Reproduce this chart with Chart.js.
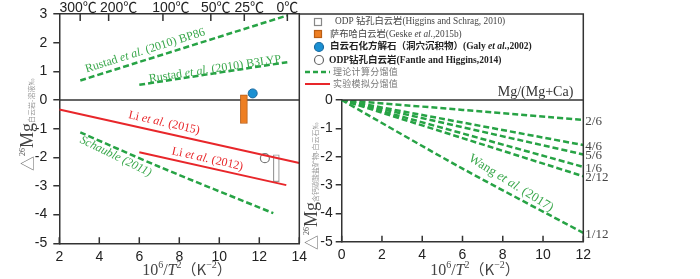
<!DOCTYPE html>
<html>
<head>
<meta charset="utf-8">
<script src="https://cdn.jsdelivr.net/npm/chart.js@4.4.1/dist/chart.umd.min.js"></script>
<style>
html, body { margin: 0; padding: 0; background: #fff; }
#wrap { position: relative; width: 700px; height: 279px; overflow: hidden; }
#leftChart { position: absolute; left: 0; top: 0; }
#rightChart { position: absolute; left: 300px; top: 0; }
</style>
</head>
<body>
<div id="wrap">
  <canvas id="leftChart" width="320" height="279"></canvas>
  <canvas id="rightChart" width="400" height="279"></canvas>
</div>
<script>
// ---- left panel: dolomite-fluid fractionation vs 10^6/T^2 ----
var tempLabels = ['300℃', '200℃', '100℃', '50℃', '25℃', '0℃'];
var tempDegC = [300, 200, 100, 50, 25, 0];

var bp86X = [3.05, 13.4];
var bp86Y = [0.68, 2.95];
var b3lypX = [6.0, 13.4];
var b3lypY = [0.53, 1.32];
var schaubleX = [3.05, 7.0, 12.7];
var schaubleY = [-1.13, -2.33, -3.95];
var li2015X = [2, 14];
var li2015Y = [-0.33, -2.2];
var li2012X = [6.0, 13.35];
var li2012Y = [-1.82, -2.97];

var geskeX = [11.23];
var geskeRange = [[-0.82, 0.18]];
var higginsX = [12.85];
var higginsRange = [[-2.85, -1.91]];
var galyX = [11.67];
var galyY = [0.23];
var fantleX = [12.28];
var fantleY = [-2.03];

// ---- right panel: Wang et al. (2017), by Mg/(Mg+Ca) ----
var ratioLabels = ['2/6', '4/6', '5/6', '1/6', '2/12', '1/12'];
var wangX = [0, 12];
var wang26 = [0, -0.70];
var wang46 = [0, -1.59];
var wang56 = [0, -1.92];
var wang16 = [0, -2.36];
var wang212 = [0, -2.69];
var wang112X = [0, 6, 12];
var wang112 = [0, -2.42, -4.69];

var GREEN = '#27a345';
var GREEN_TXT = '#3aa84c';
var RED = '#e8262a';
var AXIS = '#333';
var SERIF = '"Liberation Serif", "Noto Sans CJK SC", serif';
var SANS = '"Liberation Sans", "Noto Sans CJK SC", sans-serif';
var CJK = '"Noto Sans CJK SC", sans-serif';
// the temperature labels sit a little right of their ticks in the source figure
var tempLabelShift = [-2, 10, 8, 5, 5, 0];

function pts(xs, ys) {
    return xs.map(function (x, i) { return { x: x, y: ys[i] }; });
}

function dashed(data) {
    return { type: 'line', data: data, borderColor: GREEN, borderWidth: 2.5,
        borderDash: [6, 3], pointRadius: 0, fill: false, tension: 0.3 };
}
function solid(data) {
    return { type: 'line', data: data, borderColor: RED, borderWidth: 2,
        pointRadius: 0, fill: false };
}

// draw a run of text pieces with their own fonts
function drawRich(ctx, segs, x, y, align) {
    var w = 0;
    segs.forEach(function (s) {
        ctx.font = s.font;
        s.w = ctx.measureText(s.t).width;
        w += s.w;
    });
    var cx = align === 'center' ? x - w / 2 : x;
    segs.forEach(function (s) {
        ctx.font = s.font;
        ctx.fillStyle = s.color || '#333';
        ctx.fillText(s.t, cx, y + (s.dy || 0));
        cx += s.w;
    });
}

function lineLabel(ctx, chart, xv, yv, deg, segs) {
    var px = chart.scales.x.getPixelForValue(xv);
    var py = chart.scales.y.getPixelForValue(yv);
    ctx.save();
    ctx.translate(px, py);
    ctx.rotate(deg * Math.PI / 180);
    ctx.textBaseline = 'middle';
    drawRich(ctx, segs, 0, 0, 'center');
    ctx.restore();
}

function etal(color, size) {
    return function (before, after) {
        return [
            { t: before, font: size + 'px ' + SERIF, color: color },
            { t: 'et al.', font: 'italic ' + size + 'px ' + SERIF, color: color },
            { t: after, font: size + 'px ' + SERIF, color: color }
        ];
    };
}

function xTitle(ctx, cx, y) {
    var f = '16px ' + SERIF, s = '10px ' + SERIF;
    ctx.textBaseline = 'alphabetic';
    drawRich(ctx, [
        { t: '10', font: f, color: '#444' }, { t: '6', font: s, dy: -7, color: '#444' },
        { t: '/', font: f, color: '#444' }, { t: 'T', font: 'italic ' + f, color: '#444' },
        { t: '2', font: s, dy: -7, color: '#444' }, { t: '（K', font: '15px ' + CJK, color: '#444' },
        { t: '−2', font: s, dy: -7, color: '#444' }, { t: '）', font: '15px ' + CJK, color: '#444' }
    ], cx, y, 'center');
}

function yTitle(ctx, x, y, sub) {
    ctx.save();
    ctx.translate(x, y);
    ctx.rotate(-Math.PI / 2);
    ctx.textBaseline = 'alphabetic';
    drawRich(ctx, [
        { t: '△', font: '15px ' + CJK, color: '#777' },
        { t: '26', font: '8px ' + SERIF, dy: -8, color: '#555' },
        { t: 'Mg', font: '18px ' + SERIF, color: '#444' },
        { t: sub, font: '7px ' + CJK, color: '#999', dy: 1 }
    ], 0, 0, 'left');
    ctx.restore();
}

function inwardTicks(ctx, scale, y0, len) {
    ctx.beginPath();
    scale.ticks.forEach(function (t) {
        var px = scale.getPixelForValue(t.value);
        ctx.moveTo(px, y0);
        ctx.lineTo(px, y0 + len);
    });
    ctx.stroke();
}

function tickFont() {
    return { family: 'Liberation Sans', size: 14 };
}

// ---------------- left chart ----------------
var leftDecor = {
    id: 'leftDecor',
    beforeDatasetsDraw: function (chart) {
        var ctx = chart.ctx, a = chart.chartArea, y = chart.scales.y;
        ctx.save();
        ctx.strokeStyle = AXIS;
        ctx.lineWidth = 1.5;
        ctx.beginPath();
        ctx.moveTo(a.left, y.getPixelForValue(0));
        ctx.lineTo(a.right, y.getPixelForValue(0));
        ctx.stroke();
        ctx.restore();
    },
    afterDraw: function (chart) {
        var ctx = chart.ctx, a = chart.chartArea, top = chart.scales.xTop;
        ctx.save();
        ctx.strokeStyle = AXIS;
        ctx.lineWidth = 1.5;
        ctx.beginPath();
        ctx.moveTo(a.right, a.top);
        ctx.lineTo(a.right, a.bottom);
        ctx.stroke();
        inwardTicks(ctx, chart.scales.x, a.bottom, -6);
        inwardTicks(ctx, top, a.top, 7);

        // temperature labels on the top axis
        ctx.font = '14px ' + SANS;
        ctx.fillStyle = '#222';
        ctx.textAlign = 'center';
        ctx.textBaseline = 'alphabetic';
        top.ticks.forEach(function (t, i) {
            ctx.fillText(tempLabels[i], top.getPixelForValue(t.value) + tempLabelShift[i], 12);
        });
        ctx.textAlign = 'left';

        var g = etal(GREEN_TXT, 12), r = etal(RED, 12);
        lineLabel(ctx, chart, 6.29, 1.72, -17.4, g('Rustad ', ' (2010) BP86'));
        lineLabel(ctx, chart, 9.79, 1.08, -8.6, g('Rustad ', ' (2010) B3LYP'));
        lineLabel(ctx, chart, 7.24, -0.80, 12.6, r('Li ', ' (2015)'));
        lineLabel(ctx, chart, 9.41, -2.06, 12.7, r('Li ', ' (2012)'));
        lineLabel(ctx, chart, 4.82, -1.97, 26, [
            { t: 'Schauble (2011)', font: 'italic 12px ' + SERIF, color: GREEN_TXT }
        ]);

        yTitle(ctx, 33, 171, '白云岩-溶液‰');
        xTitle(ctx, 187, 275);
        ctx.restore();
    }
};

new Chart(document.getElementById('leftChart'), {
    type: 'line',
    data: {
        datasets: [
            dashed(pts(bp86X, bp86Y)),
            dashed(pts(b3lypX, b3lypY)),
            dashed(pts(schaubleX, schaubleY)),
            solid(pts(li2015X, li2015Y)),
            solid(pts(li2012X, li2012Y)),
            { type: 'bar', data: pts(geskeX, geskeRange), backgroundColor: '#ee7f23',
              borderColor: '#b95d14', borderWidth: 1, borderSkipped: false,
              barThickness: 7, grouped: false },
            { type: 'bar', data: pts(higginsX, higginsRange), backgroundColor: '#fff',
              borderColor: '#999', borderWidth: 1.2, borderSkipped: false,
              barThickness: 6, grouped: false },
            { type: 'scatter', data: pts(galyX, galyY), pointRadius: 4.5,
              backgroundColor: '#1b90d2', borderColor: '#1a6aa0', borderWidth: 1 },
            { type: 'scatter', data: pts(fantleX, fantleY), pointRadius: 4.5,
              backgroundColor: '#fff', borderColor: '#777', borderWidth: 1.2 }
        ]
    },
    options: {
        responsive: false,
        animation: false,
        layout: { padding: { left: 0, right: 20.7, top: 0, bottom: 0 } },
        plugins: { legend: { display: false }, tooltip: { enabled: false } },
        scales: {
            x: {
                type: 'linear', position: 'bottom', min: 2, max: 14, offset: false,
                ticks: { stepSize: 2, font: tickFont(), color: '#222', padding: 5, maxRotation: 0 },
                grid: { display: false, drawTicks: false },
                border: { color: AXIS, width: 1.5 },
                afterFit: function (s) { s.height = 35.7; s.paddingLeft = 0; s.paddingRight = 0; }
            },
            xTop: {
                type: 'linear', axis: 'x', position: 'top', min: 2, max: 14,
                afterBuildTicks: function (s) {
                    s.ticks = tempDegC.map(function (c) {
                        return { value: 1e6 / Math.pow(c + 273.15, 2) };
                    });
                },
                ticks: { display: false },
                grid: { display: false, drawTicks: false },
                border: { color: AXIS, width: 1.5 },
                afterFit: function (s) { s.height = 14; s.paddingLeft = 0; s.paddingRight = 0; }
            },
            y: {
                min: -5, max: 3,
                ticks: { stepSize: 1, font: tickFont(), color: '#222', padding: 6 },
                grid: { drawOnChartArea: false, tickLength: 6, color: AXIS, lineWidth: 1.5 },
                border: { color: AXIS, width: 1.5 },
                afterFit: function (s) { s.width = 59.3; s.paddingTop = 0; s.paddingBottom = 0; }
            }
        }
    },
    plugins: [leftDecor]
});

// ---------------- right chart ----------------
var rightDecor = {
    id: 'rightDecor',
    afterDraw: function (chart) {
        var ctx = chart.ctx, a = chart.chartArea;
        ctx.save();
        ctx.strokeStyle = AXIS;
        ctx.lineWidth = 1.5;
        ctx.beginPath();
        ctx.moveTo(0, 14);
        ctx.lineTo(a.right, 14);
        ctx.lineTo(a.right, a.bottom);
        ctx.moveTo(a.left, a.top);
        ctx.lineTo(a.right, a.top);
        ctx.stroke();
        inwardTicks(ctx, chart.scales.x, a.bottom, -6);

        // end-of-line Mg/(Mg+Ca) labels
        ctx.textBaseline = 'middle';
        ctx.textAlign = 'left';
        ctx.font = '13px ' + SERIF;
        ctx.fillStyle = '#444';
        chart.data.datasets.forEach(function (ds, i) {
            var last = ds.data[ds.data.length - 1];
            ctx.fillText(ratioLabels[i], a.right + 2, chart.scales.y.getPixelForValue(last.y) + 1.5);
        });

        ctx.textAlign = 'right';
        ctx.textBaseline = 'alphabetic';
        ctx.font = '14px ' + SERIF;
        ctx.fillStyle = '#333';
        ctx.fillText('Mg/(Mg+Ca)', a.right - 10, 96);
        ctx.textAlign = 'left';

        lineLabel(ctx, chart, 8.41, -2.93, 32, etal(GREEN_TXT, 13)('Wang ', ' (2017)'));

        // legend
        var L = 18;
        ctx.lineWidth = 1.2;
        ctx.fillStyle = '#fff'; ctx.strokeStyle = '#888';
        ctx.fillRect(L - 3.5, 18.5, 7, 7); ctx.strokeRect(L - 3.5, 18.5, 7, 7);
        ctx.fillStyle = '#ee7f23'; ctx.strokeStyle = '#b95d14';
        ctx.fillRect(L - 3.5, 30.5, 7, 7); ctx.strokeRect(L - 3.5, 30.5, 7, 7);
        ctx.beginPath(); ctx.arc(L + 1, 47, 4.5, 0, Math.PI * 2);
        ctx.fillStyle = '#1b90d2'; ctx.fill(); ctx.strokeStyle = '#1a6aa0'; ctx.stroke();
        ctx.beginPath(); ctx.arc(L + 1, 60, 4.5, 0, Math.PI * 2);
        ctx.fillStyle = '#fff'; ctx.fill(); ctx.strokeStyle = '#666'; ctx.stroke();
        ctx.lineWidth = 2.5; ctx.strokeStyle = GREEN; ctx.setLineDash([5, 3]);
        ctx.beginPath(); ctx.moveTo(5, 72); ctx.lineTo(30, 72); ctx.stroke();
        ctx.setLineDash([]); ctx.lineWidth = 2; ctx.strokeStyle = RED;
        ctx.beginPath(); ctx.moveTo(5, 84); ctx.lineTo(30, 84); ctx.stroke();

        ctx.textBaseline = 'middle';
        var n = '9.3px ' + SERIF, b = 'bold 9.5px ' + SERIF;
        drawRich(ctx, [{ t: 'ODP 钻孔白云岩(Higgins and Schrag, 2010)', font: n, color: '#444' }], 35, 22, 'left');
        drawRich(ctx, [
            { t: '萨布哈白云岩(Geske ', font: n, color: '#444' },
            { t: 'et al.', font: 'italic ' + n, color: '#444' },
            { t: ',2015b)', font: n, color: '#444' }
        ], 30, 34.5, 'left');
        drawRich(ctx, [
            { t: '白云石化方解石（洞穴沉积物）(Galy ', font: b, color: '#222' },
            { t: 'et al.', font: 'italic ' + b, color: '#222' },
            { t: ',2002)', font: b, color: '#222' }
        ], 30, 47, 'left');
        drawRich(ctx, [{ t: 'ODP钻孔白云岩(Fantle and Higgins,2014)', font: b, color: '#222' }], 29, 60.5, 'left');
        ctx.letterSpacing = '0.3px';
        drawRich(ctx, [{ t: '理论计算分馏值', font: '9px ' + CJK, color: '#777' }], 33, 72, 'left');
        drawRich(ctx, [{ t: '实验模拟分馏值', font: '9px ' + CJK, color: '#777' }], 33, 84, 'left');
        ctx.letterSpacing = '0px';

        yTitle(ctx, 17, 250, '含钙碳酸盐矿物-白云石‰');
        xTitle(ctx, 175, 275);
        ctx.restore();
    }
};

new Chart(document.getElementById('rightChart'), {
    type: 'line',
    data: {
        datasets: [
            dashed(pts(wangX, wang26)),
            dashed(pts(wangX, wang46)),
            dashed(pts(wangX, wang56)),
            dashed(pts(wangX, wang16)),
            dashed(pts(wangX, wang212)),
            dashed(pts(wang112X, wang112))
        ]
    },
    options: {
        responsive: false,
        animation: false,
        layout: { padding: { left: 0, right: 116.7, top: 100, bottom: 0 } },
        plugins: { legend: { display: false }, tooltip: { enabled: false } },
        scales: {
            x: {
                type: 'linear', min: 0, max: 12,
                ticks: { stepSize: 2, font: tickFont(), color: '#222', padding: 5, maxRotation: 0 },
                grid: { display: false, drawTicks: false },
                border: { color: AXIS, width: 1.5 },
                afterFit: function (s) { s.height = 37.3; s.paddingLeft = 0; s.paddingRight = 0; }
            },
            y: {
                min: -5, max: 0,
                ticks: { stepSize: 1, font: tickFont(), color: '#222', padding: 3 },
                grid: { drawOnChartArea: false, tickLength: 6, color: AXIS, lineWidth: 1.5 },
                border: { color: AXIS, width: 1.5 },
                afterFit: function (s) { s.width = 41.7; s.paddingTop = 0; s.paddingBottom = 0; }
            }
        }
    },
    plugins: [rightDecor]
});
</script>
</body>
</html>
